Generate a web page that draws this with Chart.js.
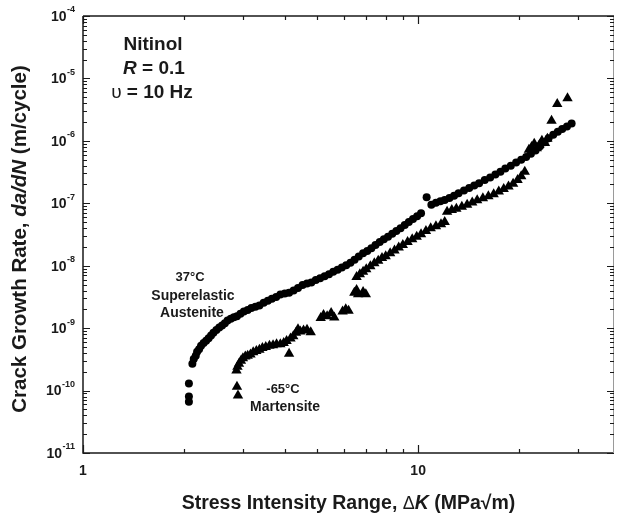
<!DOCTYPE html>
<html>
<head>
<meta charset="utf-8">
<script src="https://cdn.jsdelivr.net/npm/chart.js@4.4.1/dist/chart.umd.min.js"></script>
<style>
    html, body { margin: 0; padding: 0; background: #fff; }
    canvas { display: block; }
</style>
</head>
<body>
<canvas id="crackChart" width="620" height="516"></canvas>
<script>
    "use strict";

    // 37°C superelastic austenite (circles)
    var austK = [2.07, 2.07, 2.07,
        2.12, 2.14, 2.17, 2.19, 2.22, 2.25, 2.29, 2.33, 2.37, 2.41, 2.45, 2.50, 2.55, 2.60, 2.65, 2.70,
        2.76, 2.82, 2.88, 2.95, 3.02, 3.10, 3.18, 3.27, 3.36, 3.46, 3.56, 3.66, 3.77, 3.88, 4.00, 4.12,
        4.25, 4.38, 4.52, 4.66, 4.80, 4.95, 5.10, 5.26, 5.42, 5.58, 5.75, 5.92, 6.10, 6.28, 6.46, 6.65,
        6.85, 7.05, 7.25, 7.46, 7.68, 7.90, 8.13, 8.37, 8.61, 8.86, 9.12, 9.38, 9.65, 9.93, 10.2, 10.6,
        10.95, 11.3, 11.65, 12.0, 12.4, 12.8, 13.2, 13.7, 14.2, 14.7, 15.2, 15.8, 16.4, 17.0, 17.6, 18.2,
        18.9, 19.6, 20.3, 21.0, 21.7, 22.4, 23.1, 23.8, 24.5, 25.3, 26.1, 26.9, 27.8, 28.7];
    var austRate = [1.3e-10, 8.0e-11, 6.6e-11,
        2.7e-10, 3.2e-10, 3.6e-10, 4.2e-10, 4.6e-10, 5.2e-10, 5.8e-10, 6.3e-10, 6.9e-10, 7.6e-10, 8.4e-10, 9.3e-10, 1.02e-9, 1.10e-9, 1.20e-9, 1.33e-9,
        1.42e-9, 1.50e-9, 1.55e-9, 1.70e-9, 1.85e-9, 1.95e-9, 2.1e-9, 2.2e-9, 2.3e-9, 2.55e-9, 2.75e-9, 2.95e-9, 3.15e-9, 3.45e-9, 3.6e-9, 3.7e-9,
        4.0e-9, 4.4e-9, 4.9e-9, 5.2e-9, 5.4e-9, 5.9e-9, 6.3e-9, 6.8e-9, 7.3e-9, 8.0e-9, 8.6e-9, 9.4e-9, 1.02e-8, 1.12e-8, 1.25e-8, 1.40e-8,
        1.58e-8, 1.72e-8, 1.90e-8, 2.15e-8, 2.40e-8, 2.65e-8, 2.90e-8, 3.25e-8, 3.6e-8, 4.0e-8, 4.5e-8, 5.0e-8, 5.6e-8, 6.2e-8, 6.9e-8, 1.25e-7,
        9.5e-8, 1.02e-7, 1.08e-7, 1.13e-7, 1.22e-7, 1.32e-7, 1.45e-7, 1.6e-7, 1.75e-7, 1.92e-7, 2.1e-7, 2.35e-7, 2.6e-7, 2.9e-7, 3.2e-7, 3.6e-7,
        4.0e-7, 4.5e-7, 5.0e-7, 5.5e-7, 6.2e-7, 7.0e-7, 8.2e-7, 9.5e-7, 1.1e-6, 1.25e-6, 1.4e-6, 1.55e-6, 1.7e-6, 1.9e-6];

    // -65°C martensite (triangles)
    var martK = [2.88, 2.90,
        2.87, 2.89, 2.92, 2.96, 3.00, 3.05, 3.10, 3.16, 3.22, 3.29, 3.36, 3.43, 3.51, 3.60, 3.69, 3.78,
        3.88, 3.97, 4.05, 4.12, 4.16, 4.24, 4.32, 4.38, 4.45, 4.55, 4.66, 4.78,
        5.12, 5.22, 5.35, 5.50, 5.62, 5.95, 6.08, 6.20, 6.45, 6.55, 6.62, 6.85, 6.98,
        6.55, 6.70, 6.85, 7.00, 7.20, 7.40, 7.60, 7.80, 8.00, 8.25, 8.50, 8.75, 9.00, 9.30, 9.60, 9.90,
        10.2, 10.55, 10.9, 11.3, 11.7, 12.0,
        12.2, 12.6, 13.0, 13.5, 14.0, 14.5, 15.0, 15.6, 16.2, 16.8, 17.4, 18.0, 18.6, 19.2, 19.8, 20.3, 20.8,
        21.4, 21.8, 22.2, 22.6, 23.0, 23.4, 23.9, 24.3, 25.0, 26.0, 27.9];
    var martRate = [1.15e-10, 8.3e-11,
        2.1e-10, 2.4e-10, 2.7e-10, 3.0e-10, 3.3e-10, 3.5e-10, 3.6e-10, 3.8e-10, 4.1e-10, 4.3e-10, 4.5e-10, 4.8e-10, 5.0e-10, 5.2e-10, 5.3e-10, 5.5e-10,
        5.5e-10, 5.8e-10, 6.2e-10, 3.9e-10, 6.8e-10, 7.4e-10, 8.4e-10, 9.6e-10, 8.8e-10, 9.2e-10, 9.4e-10, 8.6e-10,
        1.45e-9, 1.62e-9, 1.55e-9, 1.75e-9, 1.48e-9, 1.85e-9, 2.0e-9, 1.9e-9, 3.7e-9, 4.1e-9, 3.5e-9, 3.8e-9, 3.5e-9,
        6.6e-9, 7.3e-9, 8.0e-9, 8.8e-9, 9.8e-9, 1.1e-8, 1.2e-8, 1.33e-8, 1.42e-8, 1.58e-8, 1.75e-8, 1.95e-8, 2.15e-8, 2.4e-8, 2.65e-8, 2.9e-8,
        3.2e-8, 3.6e-8, 4.0e-8, 4.3e-8, 4.6e-8, 5.0e-8,
        7.3e-8, 7.8e-8, 8.2e-8, 8.8e-8, 9.5e-8, 1.03e-7, 1.12e-7, 1.2e-7, 1.3e-7, 1.4e-7, 1.55e-7, 1.7e-7, 1.85e-7, 2.05e-7, 2.35e-7, 2.7e-7, 3.2e-7,
        7.2e-7, 8.0e-7, 9.0e-7, 7.6e-7, 8.6e-7, 1.0e-6, 9.2e-7, 1.08e-6, 2.1e-6, 3.9e-6, 4.8e-6];

    // axis ticks
    var xMajorTicks = [1, 10];
    var xMinorTicks = [2, 3, 4, 5, 6, 7, 8, 9, 20, 30];
    var yDecades = [-11, -10, -9, -8, -7, -6, -5, -4];

    var FONT = '"Liberation Sans", Arial, Helvetica, sans-serif';

    function toPoints(xs, ys) {
        return xs.map(function (x, i) {
            return {x: x, y: ys[i]};
        });
    }

    // draw text made of several styled pieces in one line
    function drawPieces(ctx, pieces, x, y) {
        var total = 0;
        pieces.forEach(function (p) {
            ctx.font = p.font;
            total += ctx.measureText(p.text).width;
        });
        var cx = x - total / 2;
        ctx.textAlign = 'left';
        pieces.forEach(function (p) {
            ctx.font = p.font;
            ctx.fillText(p.text, cx, y);
            cx += ctx.measureText(p.text).width;
        });
    }

    function centerText(ctx, text, font, x, y) {
        ctx.font = font;
        ctx.textAlign = 'center';
        ctx.fillText(text, x, y);
    }

    var paperAxes = {
        id: 'paperAxes',
        afterDraw: function (chart) {
            var ctx = chart.ctx;
            var a = chart.chartArea;
            var xs = chart.scales.x;
            var ys = chart.scales.y;

            ctx.save();
            ctx.strokeStyle = '#1a1a1a';
            ctx.lineWidth = 1.5;
            ctx.beginPath();
            ctx.moveTo(a.left, a.top);
            ctx.lineTo(a.left, a.bottom);
            ctx.lineTo(a.right, a.bottom);
            ctx.moveTo(a.left, a.top);
            ctx.lineTo(a.right, a.top);
            ctx.stroke();

            ctx.strokeStyle = '#9a9a9a';
            ctx.lineWidth = 1;
            ctx.beginPath();
            ctx.moveTo(a.right - 0.5, a.top);
            ctx.lineTo(a.right - 0.5, a.bottom);
            ctx.stroke();

            // x ticks, bottom and top, pointing inward
            ctx.strokeStyle = '#1a1a1a';
            ctx.lineWidth = 1.2;
            ctx.beginPath();
            xMajorTicks.concat(xMinorTicks).forEach(function (v) {
                var len = xMajorTicks.indexOf(v) >= 0 ? 8 : 4;
                var px = Math.round(xs.getPixelForValue(v)) + 0.5;
                ctx.moveTo(px, a.bottom);
                ctx.lineTo(px, a.bottom - len);
                ctx.moveTo(px, a.top);
                ctx.lineTo(px, a.top + len);
            });
            ctx.stroke();

            // y ticks, left and right
            ctx.beginPath();
            yDecades.forEach(function (d) {
                var base = Math.pow(10, d);
                var py = Math.round(ys.getPixelForValue(base)) + 0.5;
                ctx.moveTo(a.left, py);
                ctx.lineTo(a.left + 7, py);
                ctx.moveTo(a.right, py);
                ctx.lineTo(a.right - 7, py);
                if (d < -4) {
                    for (var m = 2; m <= 9; m++) {
                        var pm = Math.round(ys.getPixelForValue(m * base)) + 0.5;
                        ctx.moveTo(a.left, pm);
                        ctx.lineTo(a.left + 4, pm);
                        ctx.moveTo(a.right, pm);
                        ctx.lineTo(a.right - 4, pm);
                    }
                }
            });
            ctx.stroke();

            ctx.fillStyle = '#1a1a1a';
            ctx.textBaseline = 'middle';

            // y tick labels 10^n
            yDecades.forEach(function (d) {
                var py = ys.getPixelForValue(Math.pow(10, d));
                ctx.textAlign = 'right';
                ctx.font = 'bold 9px ' + FONT;
                var exp = String(d);
                ctx.fillText(exp, 75, py - 6);
                var w = ctx.measureText(exp).width;
                ctx.font = 'bold 14px ' + FONT;
                ctx.fillText('10', 75 - w - 0.5, py + 1);
            });

            // x tick labels
            xMajorTicks.forEach(function (v) {
                centerText(ctx, String(v), 'bold 14px ' + FONT, xs.getPixelForValue(v), 471);
            });

            // x axis title
            drawPieces(ctx, [
                {text: 'Stress Intensity Range, ', font: 'bold 19.5px ' + FONT},
                {text: 'Δ', font: '18px ' + FONT},
                {text: 'K', font: 'italic bold 19.5px ' + FONT},
                {text: ' (MPa√m)', font: 'bold 19.5px ' + FONT}
            ], (a.left + a.right) / 2, 504);

            // y axis title
            ctx.save();
            ctx.translate(20, 239);
            ctx.rotate(-Math.PI / 2);
            drawPieces(ctx, [
                {text: 'Crack Growth Rate, ', font: 'bold 20.5px ' + FONT},
                {text: 'da/dN', font: 'italic bold 20.5px ' + FONT},
                {text: ' (m/cycle)', font: 'bold 20.5px ' + FONT}
            ], 0, 0);
            ctx.restore();

            // material / test conditions
            centerText(ctx, 'Nitinol', 'bold 19px ' + FONT, 153, 45);
            drawPieces(ctx, [
                {text: 'R', font: 'italic bold 19px ' + FONT},
                {text: ' = 0.1', font: 'bold 19px ' + FONT}
            ], 154, 69);
            drawPieces(ctx, [
                {text: 'υ', font: '19px ' + FONT},
                {text: ' = 10 Hz', font: 'bold 19px ' + FONT}
            ], 152, 93);

            // curve labels
            centerText(ctx, '37°C', 'bold 13px ' + FONT, 190, 277);
            centerText(ctx, 'Superelastic', 'bold 14px ' + FONT, 193, 296);
            centerText(ctx, 'Austenite', 'bold 14px ' + FONT, 192, 313);
            centerText(ctx, '-65°C', 'bold 13px ' + FONT, 283, 389);
            centerText(ctx, 'Martensite', 'bold 14px ' + FONT, 285, 407);

            ctx.restore();
        }
    };

    new Chart(document.getElementById('crackChart'), {
        type: 'scatter',
        data: {
            datasets: [
                {
                    label: '37°C Superelastic Austenite',
                    data: toPoints(austK, austRate),
                    pointStyle: 'circle',
                    pointRadius: 4,
                    backgroundColor: '#000',
                    borderColor: '#000',
                    borderWidth: 0
                },
                {
                    label: '-65°C Martensite',
                    data: toPoints(martK, martRate),
                    pointStyle: 'triangle',
                    pointRadius: 6,
                    backgroundColor: '#000',
                    borderColor: '#000',
                    borderWidth: 0
                }
            ]
        },
        options: {
            responsive: false,
            animation: false,
            devicePixelRatio: 1,
            layout: {
                padding: {left: 83, top: 16, right: 3, bottom: 63}
            },
            plugins: {
                legend: {display: false},
                tooltip: {enabled: false}
            },
            scales: {
                x: {type: 'logarithmic', min: 1, max: 38.4, display: false},
                y: {type: 'logarithmic', min: 1e-11, max: 1e-4, display: false}
            }
        },
        plugins: [paperAxes]
    });
</script>
</body>
</html>
